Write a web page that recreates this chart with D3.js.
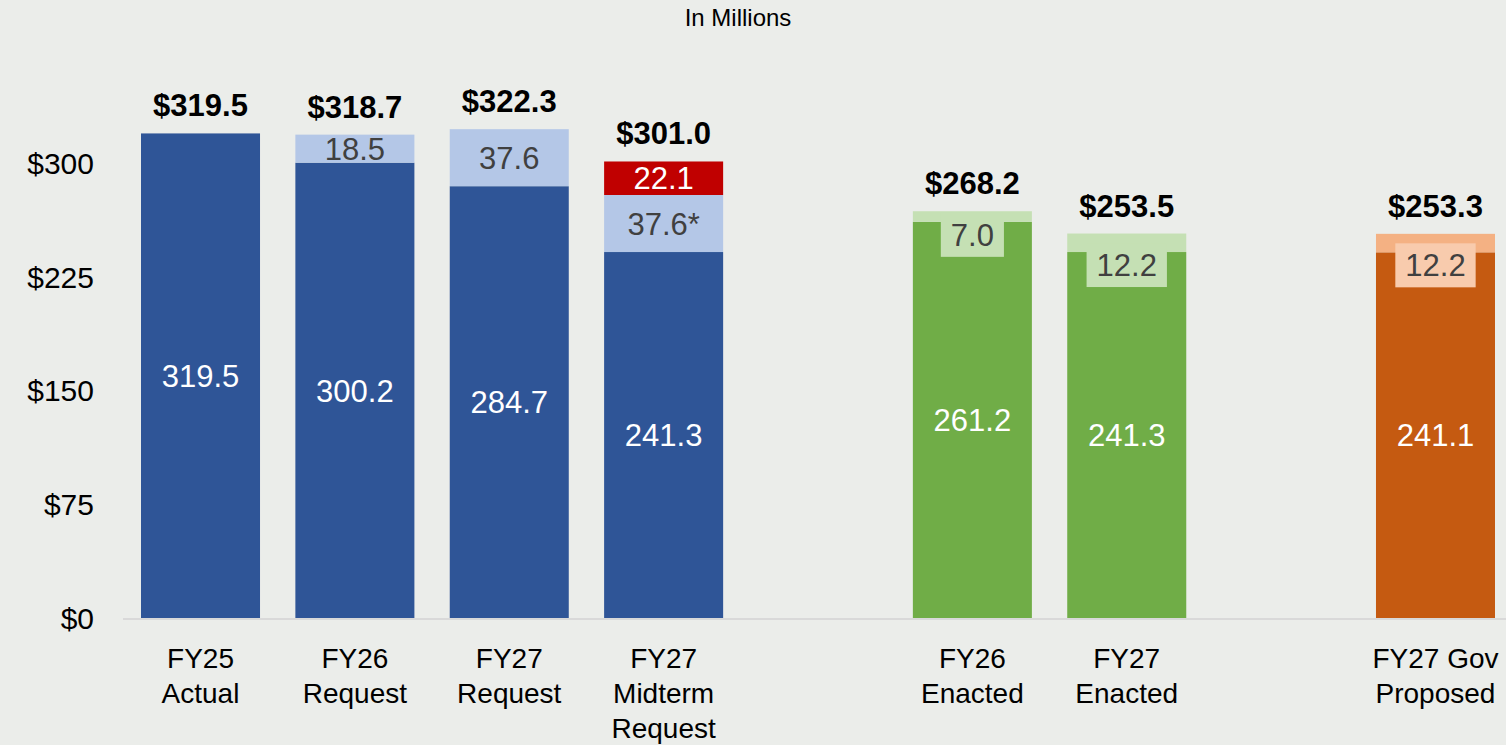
<html>
    <head>
        <style>
            body{ margin: 0; background: #ebedea; }
            text{ font-family: "Liberation Sans", Arial, sans-serif; }
        </style>
        <script src="https://d3js.org/d3.v7.min.js" charset="utf-8"></script>
    </head>
    <body>
        <div id="viz"></div>
        <script>
            // slots on the x axis, blanks are the gaps between groups
            let slots      = ["a", "b", "c", "d", "gap1", "e", "f", "gap2", "g"];
            let categories = ["a", "b", "c", "d", "e", "f", "g"];
            let catLabels  = [["FY25", "Actual"], ["FY26", "Request"], ["FY27", "Request"],
                              ["FY27", "Midterm", "Request"], ["FY26", "Enacted"],
                              ["FY27", "Enacted"], ["FY27 Gov", "Proposed"]];
            let base       = [319.5, 300.2, 284.7, 241.3, 261.2, 241.3, 241.1];
            let addon      = [0, 18.5, 37.6, 37.6, 7.0, 12.2, 12.2];
            let addonText  = ["", "18.5", "37.6", "37.6*", "7.0", "12.2", "12.2"];
            let extra      = [0, 0, 0, 22.1, 0, 0, 0];
            let totals     = [319.5, 318.7, 322.3, 301.0, 268.2, 253.5, 253.3];
            let group      = ["blue", "blue", "blue", "blue", "green", "green", "orange"];
            let yTicks     = [0, 75, 150, 225, 300];

            let palette = {
                blue:   { base: "#2f5597", addon: "#b4c7e7", box: null },
                green:  { base: "#70ad47", addon: "#c5e0b4", box: "#c5e0b4" },
                orange: { base: "#c55a11", addon: "#f4b183", box: "#f8cbad" }
            };

            let width = 1506, height = 745;
            let svg = d3.select("#viz").append("svg").attr("width", width).attr("height", height);
            svg.append("rect").attr("width", width).attr("height", height).attr("fill", "#ebedea");

            let x = d3.scaleBand().domain(slots).range([141, 1495]).paddingInner(0.229).paddingOuter(0);
            let y = d3.scaleLinear().domain([0, 300]).range([618, 163]);

            let data = categories.map((c, i) => ({
                key: c, label: catLabels[i], base: base[i], addon: addon[i], addonText: addonText[i],
                extra: extra[i], total: totals[i], col: palette[group[i]]
            }));

            // title
            svg.append("text").attr("x", 738).attr("y", 26).attr("text-anchor", "middle")
                .style("font-size", "24px").attr("fill", "#000").text("In Millions");

            // y axis labels
            svg.selectAll(".ytick").data(yTicks).join("text")
                .attr("class", "ytick")
                .attr("x", 94).attr("y", d => y(d)).attr("dy", "0.36em")
                .attr("text-anchor", "end")
                .style("font-size", "30px").attr("fill", "#000")
                .text(d => "$" + d);

            let bar = svg.selectAll(".bar-group").data(data).join("g").attr("class", "bar-group");

            bar.append("rect")
                .attr("x", d => x(d.key)).attr("width", x.bandwidth())
                .attr("y", d => y(d.base)).attr("height", d => y(0) - y(d.base))
                .attr("fill", d => d.col.base);

            bar.filter(d => d.addon > 0).append("rect")
                .attr("x", d => x(d.key)).attr("width", x.bandwidth())
                .attr("y", d => y(d.base + d.addon)).attr("height", d => y(d.base) - y(d.base + d.addon))
                .attr("fill", d => d.col.addon);

            bar.filter(d => d.extra > 0).append("rect")
                .attr("x", d => x(d.key)).attr("width", x.bandwidth())
                .attr("y", d => y(d.base + d.addon + d.extra))
                .attr("height", d => y(d.base + d.addon) - y(d.base + d.addon + d.extra))
                .attr("fill", "#c00000");

            // axis baseline
            svg.append("line").attr("x1", 123).attr("x2", width).attr("y1", y(0) + 1).attr("y2", y(0) + 1)
                .attr("stroke", "#d9d9d9").attr("stroke-width", 2);

            let cx = d => x(d.key) + x.bandwidth() / 2;

            // base segment labels
            bar.append("text")
                .attr("x", cx).attr("y", d => (y(0) + y(d.base)) / 2).attr("dy", "0.36em")
                .attr("text-anchor", "middle").style("font-size", "31px")
                .attr("fill", "#fff")
                .text(d => d.base.toFixed(1));

            // add-on labels: plain inside blue, boxed below the thin green/orange caps
            bar.filter(d => d.addon > 0).each(function(d) {
                let g = d3.select(this);
                let boxed = d.col.box !== null;
                let ly = boxed ? y(d.base) + 13 : (y(d.base) + y(d.base + d.addon)) / 2;
                let t = g.append("text")
                    .attr("x", cx(d)).attr("y", ly).attr("dy", "0.36em")
                    .attr("text-anchor", "middle").style("font-size", "31px")
                    .attr("fill", "#404040").text(d.addonText);
                if (boxed) {
                    let bb = t.node().getBBox();
                    let top = Math.max(y(d.base + d.addon), ly - 22);
                    g.insert("rect", "text")
                        .attr("x", bb.x - 10).attr("width", bb.width + 20)
                        .attr("y", top).attr("height", ly + 22 - top)
                        .attr("fill", d.col.box);
                }
            });

            // red extra labels
            bar.filter(d => d.extra > 0).append("text")
                .attr("x", cx)
                .attr("y", d => (y(d.base + d.addon) + y(d.base + d.addon + d.extra)) / 2).attr("dy", "0.36em")
                .attr("text-anchor", "middle").style("font-size", "31px").attr("fill", "#fff")
                .text(d => d.extra.toFixed(1));

            // totals
            bar.append("text")
                .attr("x", cx).attr("y", d => y(d.total) - 17)
                .attr("text-anchor", "middle").style("font-size", "31px").style("font-weight", "bold")
                .attr("fill", "#000")
                .text(d => "$" + d.total.toFixed(1));

            // category labels
            bar.each(function(d) {
                let t = d3.select(this).append("text")
                    .attr("x", cx(d)).attr("y", 668)
                    .attr("text-anchor", "middle").style("font-size", "28px").attr("fill", "#000");
                d.label.forEach((line, i) => {
                    t.append("tspan").attr("x", cx(d)).attr("dy", i === 0 ? 0 : 35).text(line);
                });
            });
        </script>
    </body>
</html>
